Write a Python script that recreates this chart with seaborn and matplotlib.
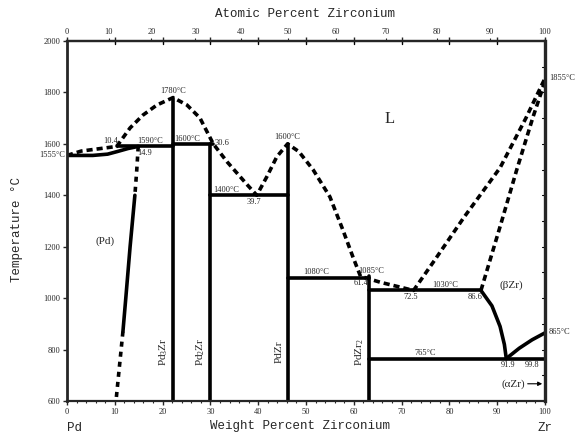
import numpy as np
import pandas as pd
import matplotlib
matplotlib.use("Agg")
import matplotlib.pyplot as plt
import seaborn as sns

# ---------------- data (weight percent Zr, temperature in C) ----------------
liq_w = [0, 3, 10.4, 13.2, 15.9, 18.8, 22.2, 25.1, 27.8, 30.6, 33.5, 37.7, 39.7,
         41.8, 43.9, 46.15, 48.5, 51.5, 55.0, 57.7, 59.8, 61.4, 65.5, 72.5,
         77.0, 83.0, 90.6, 96.0, 100]
liq_t = [1555, 1572, 1590, 1662, 1712, 1751, 1780, 1751, 1701, 1600, 1530, 1441, 1400,
         1472, 1550, 1600, 1570, 1499, 1394, 1266, 1161, 1085, 1062, 1030,
         1150, 1313, 1507, 1700, 1855]

bzr_sol_w = [86.6, 90.6, 94.1, 97.5, 99.6, 100]
bzr_sol_t = [1030, 1278, 1500, 1705, 1821, 1855]

pd_sol_w = [0, 5.4, 8.5, 10.5, 12.8, 14.9]
pd_sol_t = [1555, 1555, 1560, 1570, 1582, 1590]

pd_solv_top_w = [14.9, 14.6, 14.2]
pd_solv_top_t = [1590, 1500, 1400]
pd_solv_mid_w = [14.2, 13.2, 12.3, 11.7]
pd_solv_mid_t = [1400, 1200, 1000, 870]
pd_solv_bot_w = [11.7, 11.0, 10.25]
pd_solv_bot_t = [870, 740, 600]

bzr_solv_w = [86.6, 88.9, 90.6, 91.5, 91.9]
bzr_solv_t = [1030, 970, 890, 820, 765]

azr_w = [91.9, 94.6, 97.3, 100]
azr_t = [765, 805, 838, 865]

compounds = ["Pd$_3$Zr", "Pd$_2$Zr", "PdZr", "PdZr$_2$"]
compound_w = [22.2, 30.0, 46.15, 63.2]
compound_top = [1780, 1600, 1600, 1085]

iso_t = [1590, 1600, 1400, 1080, 1030, 765]
iso_w0 = [10.4, 22.2, 30.0, 46.15, 63.2, 63.2]
iso_w1 = [22.2, 30.6, 46.15, 63.2, 86.6, 100]

at_ticks = [0, 10, 20, 30, 40, 50, 60, 70, 80, 90, 100]
y_ticks = [600, 800, 1000, 1200, 1400, 1600, 1800, 2000]
x_ticks = [0, 10, 20, 30, 40, 50, 60, 70, 80, 90, 100]

M_PD, M_ZR = 106.42, 91.224


def at_to_wt(a):
    a = np.asarray(a, dtype=float)
    return 100 * a * M_ZR / (a * M_ZR + (100 - a) * M_PD)


# ---------------- figure ----------------
sns.set_style("white")
plt.rcParams["mathtext.fontset"] = "custom"
plt.rcParams["mathtext.rm"] = "Liberation Serif"
plt.rcParams["mathtext.it"] = "Liberation Serif"
fig = plt.figure(figsize=(5.79, 4.36), dpi=100)
ax = fig.add_axes([67 / 579, 35 / 436, 478 / 579, 360 / 436])

black = "black"
dash = (0, (1.7, 1.1))
LW = 2.6


def seg(w, t, ls="-", lw=LW):
    df = pd.DataFrame({"w": w, "t": t})
    sns.lineplot(data=df, x="w", y="t", ax=ax, color=black, lw=lw,
                 linestyle=ls, sort=False, estimator=None)


seg(liq_w, liq_t, dash)
seg(bzr_sol_w, bzr_sol_t, dash)
seg(pd_sol_w, pd_sol_t, "-")
seg(pd_solv_top_w, pd_solv_top_t, (0, (1.4, 1.4)))
seg(pd_solv_mid_w, pd_solv_mid_t, "-")
seg(pd_solv_bot_w, pd_solv_bot_t, (0, (1.4, 1.4)))
seg(bzr_solv_w, bzr_solv_t, "-")
seg(azr_w, azr_t, "-")
for w, top in zip(compound_w, compound_top):
    seg([w, w], [600, top], "-")
for t, a, b in zip(iso_t, iso_w0, iso_w1):
    seg([a, b], [t, t], "-")

ax.set_xlim(0, 100)
ax.set_ylim(600, 2000)
ax.set_xlabel("")
ax.set_ylabel("")

serif = "Liberation Serif"
mono = "Liberation Mono"

ax.set_xticks(x_ticks)
ax.set_xticklabels([str(v) for v in x_ticks], fontsize=6, family=serif)
ax.set_yticks(y_ticks)
ax.set_yticklabels([str(v) for v in y_ticks], fontsize=6, family=serif)
ax.set_xticks(np.arange(0, 101, 2), minor=True)
ax.tick_params(axis="x", which="major", direction="out", length=3, width=1, pad=2,
               bottom=True, top=True, labelbottom=True)
ax.tick_params(axis="x", which="minor", direction="out", length=1.5, width=0.8,
               bottom=True, top=False)
ax.tick_params(axis="y", which="major", direction="out", length=3, width=1, pad=2,
               left=True, right=False)
for x in x_ticks[1:-1]:
    ax.plot([x, x], [2000, 1990], color=black, lw=1, clip_on=False)
for t in np.arange(700, 2000, 100):
    ax.plot([100, 99.4], [t, t], color=black, lw=0.8, clip_on=False)

# top atomic percent axis
top = ax.secondary_xaxis("top", functions=(lambda x: x, lambda x: x))
top.set_xticks(at_to_wt(at_ticks))
top.set_xticklabels([str(v) for v in at_ticks], fontsize=6, family=serif)
top.tick_params(direction="out", length=2, width=0.8, pad=1.5)
top.spines["top"].set_linewidth(1.6)

for s in ["top", "bottom"]:
    ax.spines[s].set_linewidth(1.6)
ax.spines["left"].set_linewidth(2.0)
ax.spines["right"].set_linewidth(2.4)

# axis titles
fig.text(305 / 579, 1 - 14 / 436, "Atomic Percent Zirconium", ha="center", va="center",
         fontsize=9, family=mono)
fig.text(300 / 579, 1 - 426 / 436, "Weight Percent Zirconium", ha="center", va="center",
         fontsize=9, family=mono)
fig.text(17 / 579, 1 - 230 / 436, "Temperature °C", ha="center", va="center",
         fontsize=9, family=mono, rotation=90)
fig.text(75 / 579, 1 - 428 / 436, "Pd", ha="center", va="center", fontsize=9, family=mono)
fig.text(545 / 579, 1 - 428 / 436, "Zr", ha="center", va="center", fontsize=9, family=mono)

# annotations
fs = 6
def lab(x, y, s, ha="left", va="center", **kw):
    ax.text(x, y, s, ha=ha, va=va, fontsize=kw.pop("fontsize", fs), family=serif, **kw)

lab(-0.4, 1555, "1555°C", ha="right", clip_on=False)
lab(10.6, 1610, "10.4", ha="right")
lab(14.7, 1610, "1590°C")
lab(14.7, 1565, "14.9")
lab(22.2, 1805, "1780°C", ha="center")
lab(22.5, 1620, "1600°C")
lab(30.9, 1605, "30.6")
lab(30.6, 1420, "1400°C")
lab(37.6, 1375, "39.7")
lab(46.15, 1625, "1600°C", ha="center")
lab(49.5, 1100, "1080°C")
lab(61.0, 1105, "1085°C")
lab(63.0, 1060, "61.4", ha="right")
lab(70.5, 1005, "72.5")
lab(76.5, 1050, "1030°C")
lab(87.0, 1005, "86.6", ha="right")
lab(90.5, 1050, "(βZr)", fontsize=8)
lab(100.8, 1855, "1855°C", clip_on=False)
lab(100.8, 870, "865°C", clip_on=False)
lab(72.8, 785, "765°C")
lab(90.8, 740, "91.9")
lab(95.8, 740, "99.8")
lab(6.0, 1220, "(Pd)", fontsize=8)
ax.text(67.5, 1695, "L", fontsize=12, family=serif, ha="center", va="center")
ax.annotate("", xy=(100, 667), xytext=(95.8, 667),
            arrowprops=dict(arrowstyle="-|>", color=black, lw=0.8, mutation_scale=6))
lab(95.8, 667, "(αZr)", ha="right", fontsize=8)

cx = [20.2, 27.9, 44.3, 61.2]
for x, name in zip(cx, compounds):
    ax.text(x, 790, name, rotation=90, ha="center", va="center", fontsize=8, family=serif)

fig.savefig("out.png", dpi=100)
